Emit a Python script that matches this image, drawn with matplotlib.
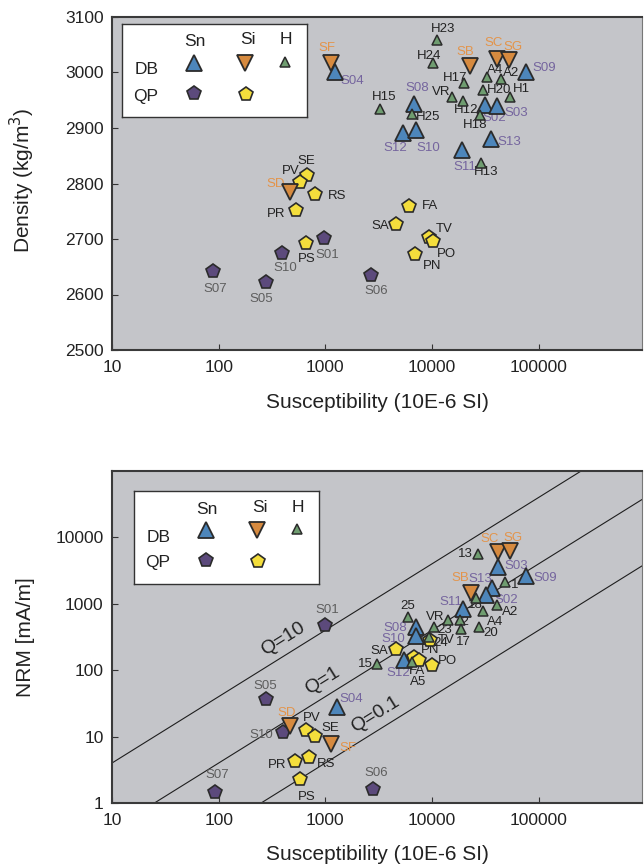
import numpy as np
import matplotlib
matplotlib.use('Agg')
import matplotlib.pyplot as plt
from matplotlib.ticker import FixedLocator, FixedFormatter, NullLocator

plt.rcParams['font.family'] = ['Liberation Sans', 'DejaVu Sans']

# ---------------- data: density panel ----------------
dbsn_top_names = ['S04', 'S08', 'S12', 'S10', 'S02', 'S03', 'S09', 'S13', 'S11']
dbsn_top_k = [1240, 6790, 5360, 7080, 31300, 40500, 75700, 35600, 19100]
dbsn_top_rho = [3001, 2943, 2891, 2896, 2941, 2940, 3001, 2880, 2860]

dbsi_top_names = ['SF', 'SB', 'SC', 'SG', 'SD']
dbsi_top_k = [1140, 22700, 40500, 52500, 471]
dbsi_top_rho = [3017, 3012, 3024, 3023, 2785]

dbh_top_names = ['H23', 'H24', 'H17', 'A4', 'A2', 'H20', 'H1', 'VR', 'H12', 'H18', 'H15', 'H25', 'H13']
dbh_top_k = [11100, 10200, 19900, 32700, 44200, 30000, 53600, 15400, 19500, 28100, 3270, 6500, 28700]
dbh_top_rho = [3059, 3017, 2981, 2992, 2988, 2968, 2956, 2956, 2949, 2923, 2934, 2925, 2837]

qpsn_top_names = ['S01', 'S10', 'S05', 'S06', 'S07']
qpsn_top_k = [979, 396, 275, 2690, 88]
qpsn_top_rho = [2702, 2675, 2623, 2635, 2642]

qpsi_top_names = ['SE', 'PV', 'RS', 'PR', 'FA', 'SA', 'TV', 'PO', 'PN', 'PS']
qpsi_top_k = [679, 584, 807, 535, 6100, 4610, 9370, 10200, 6930, 664]
qpsi_top_rho = [2815, 2803, 2781, 2752, 2759, 2727, 2704, 2696, 2673, 2693]

# ---------------- data: NRM panel ----------------
dbsn_bot_names = ['S03', 'S09', 'S13', 'S02', 'S11', 'S08', 'S10', 'S12', 'S04']
dbsn_bot_k = [41400, 75700, 36400, 32000, 19500, 7080, 7080, 5470, 1295]
dbsn_bot_nrm = [3580, 2620, 1730, 1360, 835, 447, 327, 142, 27.9]

dbsi_bot_names = ['SC', 'SG', 'SB', 'SD', 'SF']
dbsi_bot_k = [41400, 53600, 23100, 471, 1140]
dbsi_bot_nrm = [6030, 6240, 1455, 14.4, 7.7]

dbh_bot_names = ['13', '1', '18', 'A2', 'A4', '20', '25', 'VR', '12', '23', '17', '24', '15', 'A5']
dbh_bot_k = [26900, 48100, 25800, 40500, 30000, 27500, 5970, 14100, 18300, 10400, 18700, 9380, 3060, 6500]
dbh_bot_nrm = [5620, 2130, 1220, 959, 779, 447, 633, 570, 570, 447, 417, 316, 124, 133]

qpsn_bot_names = ['S01', 'S05', 'S10', 'S07', 'S06']
qpsn_bot_k = [1000, 275, 405, 92, 2810]
qpsn_bot_nrm = [479, 36.8, 11.7, 1.47, 1.63]

qpsi_bot_names = ['PV', 'SE', 'PR', 'RS', 'PS', 'SA', 'TV', 'PN', 'FA', 'PO']
qpsi_bot_k = [664, 807, 525, 708, 584, 4610, 9570, 6790, 7570, 10000]
qpsi_bot_nrm = [12.6, 10.2, 4.29, 4.93, 2.30, 209, 285, 158, 142, 120]

q_values = [10, 1, 0.1]
q_label_k = [481, 1114, 3480]

# label offsets (pixels) for the point names
off_dbsn_top = [(17, -9), (3, 16), (-8, -15), (12, -18), (9, -13), (19, -7), (18, 4), (18, -3), (3, -17)]
off_dbsi_top = [(-4, 15), (-5, 14), (-3, 16), (4, 13), (-15, 8)]
off_dbh_top = [(6, 11), (-4, 7), (-9, 5), (8, 7), (10, 6), (16, 0), (12, 8), (-11, 5), (3, -9),
               (-5, -10), (4, 12), (16, -3), (5, -9)]
off_qpsn_top = [(3, -17), (3, -15), (-4, -17), (5, -16), (2, -18)]
off_qpsi_top = [(-1, 14), (-10, 11), (22, -2), (-20, -4), (21, 0), (-16, -2), (15, 8), (14, -13),
                (17, -12), (0, -16)]

off_dbsn_bot = [(18, 1), (19, -2), (-12, 9), (20, -5), (-12, 7), (-21, -1), (-23, -3), (-6, -13), (14, 8)]
off_dbsi_bot = [(-8, 13), (3, 13), (-11, 15), (-4, 13), (17, -4)]
off_dbh_bot = [(-12, 0), (10, -3), (-1, -7), (13, -7), (12, -11), (12, -6), (0, 11), (-13, 3), (2, -2),
               (11, -3), (2, -13), (12, -6), (-12, 0), (6, -20)]
off_qpsn_bot = [(2, 15), (0, 13), (-22, -3), (2, 17), (3, 16)]
off_qpsi_bot = [(5, 12), (15, 8), (-18, -4), (17, -7), (6, -18), (-17, -2), (16, 0), (16, 7), (-2, -11), (15, 4)]

# ---------------- styles ----------------
EDGE = '#2b2b2b'
BG = '#c4c5c9'
sty_dbsn = dict(marker='^', ms=11, mfc='#4d86bb', mec=EDGE, mew=1.3)
sty_dbsi = dict(marker='v', ms=11, mfc='#d68a3f', mec=EDGE, mew=1.3)
sty_dbh = dict(marker='^', ms=7.5, mfc='#6f9d70', mec=EDGE, mew=1.1)
sty_qpsn = dict(marker='p', ms=10.5, mfc='#5c4a7c', mec=EDGE, mew=1.2)
sty_qpsi = dict(marker='p', ms=10.5, mfc='#f4de3c', mec=EDGE, mew=1.2)
col_dbsn = '#75659e'
col_dbsi = '#e3944a'
col_dbh = '#222222'
col_qpsn = '#5e5e5e'
col_qpsi = '#222222'

W, H = 644, 866
fig = plt.figure(figsize=(W / 100, H / 100), dpi=100)


def px_axes(l, t, r, b):
    return fig.add_axes([l / W, 1 - b / H, (r - l) / W, (b - t) / H])


def plot_group(ax, k, v, names, offs, sty, tcol, z):
    ax.plot(k, v, ls='none', zorder=z, **sty)
    for x, y, n, (dx, dy) in zip(k, v, names, offs):
        ax.annotate(n, (x, y), xytext=(dx, dy), textcoords='offset pixels',
                    ha='center', va='center', fontsize=9.5, color=tcol, zorder=2)


def style_axes(ax):
    ax.set_facecolor(BG)
    for s in ['top', 'left', 'bottom']:
        ax.spines[s].set_linewidth(1.5)
        ax.spines[s].set_color('#3a3a3a')
    ax.spines['right'].set_linewidth(0.8)
    ax.spines['right'].set_color('#777777')
    ax.set_xscale('log')
    ax.set_xlim(10, 9.3e5)
    ax.xaxis.set_major_locator(FixedLocator([10, 100, 1000, 10000, 100000]))
    ax.xaxis.set_major_formatter(FixedFormatter(['10', '100', '1000', '10000', '100000']))
    ax.xaxis.set_minor_locator(NullLocator())
    ax.tick_params(axis='both', direction='in', length=4, width=0.8, color='#333333',
                   labelsize=12.5, labelcolor='#222222')
    ax.tick_params(axis='x', pad=7)
    ax.tick_params(axis='y', pad=6)
    ax.set_xlabel('Susceptibility (10E-6 SI)', fontsize=15, color='#222222')


def draw_key(l, t):
    lg = px_axes(l, t, l + 185, t + 93)
    lg.set_xlim(0, 185)
    lg.set_ylim(93, 0)
    lg.set_xticks([])
    lg.set_yticks([])
    lg.set_facecolor('white')
    for s in lg.spines.values():
        s.set_linewidth(1.0)
        s.set_color('#333333')
    for txt, x, y in [('Sn', 73, 18), ('Si', 126, 16), ('H', 164, 16), ('DB', 25, 46), ('QP', 24, 72)]:
        lg.text(x, y, txt, ha='center', va='center', fontsize=12.5, color='#222222')
    lg.plot([72], [39], **sty_dbsn)
    lg.plot([123], [39], **sty_dbsi)
    lg.plot([163], [38], **sty_dbh)
    lg.plot([72], [69], **sty_qpsn)
    lg.plot([124], [70], **sty_qpsi)


# ---------------- top panel ----------------
ax1 = px_axes(112, 17, 642, 350)
style_axes(ax1)
ax1.set_ylim(2500, 3100)
ax1.yaxis.set_major_locator(FixedLocator(np.arange(2500, 3101, 100)))
ax1.yaxis.set_minor_locator(NullLocator())
ax1.set_ylabel('Density (kg/m$^3$)', fontsize=15, color='#222222')
ax1.yaxis.set_label_coords(-0.142, 0.51)
ax1.xaxis.set_label_coords(0.5, -0.128)

plot_group(ax1, qpsi_top_k, qpsi_top_rho, qpsi_top_names, off_qpsi_top, sty_qpsi, col_qpsi, 3)
plot_group(ax1, qpsn_top_k, qpsn_top_rho, qpsn_top_names, off_qpsn_top, sty_qpsn, col_qpsn, 3)
plot_group(ax1, dbsi_top_k, dbsi_top_rho, dbsi_top_names, off_dbsi_top, sty_dbsi, col_dbsi, 4)
plot_group(ax1, dbsn_top_k, dbsn_top_rho, dbsn_top_names, off_dbsn_top, sty_dbsn, col_dbsn, 5)
plot_group(ax1, dbh_top_k, dbh_top_rho, dbh_top_names, off_dbh_top, sty_dbh, col_dbh, 6)
draw_key(122, 24)

# ---------------- bottom panel ----------------
ax2 = px_axes(112, 471, 642, 803)
style_axes(ax2)
ax2.set_yscale('log')
ax2.set_ylim(1, 1e5)
ax2.yaxis.set_major_locator(FixedLocator([1, 10, 100, 1000, 10000]))
ax2.yaxis.set_major_formatter(FixedFormatter(['1', '10', '100', '1000', '10000']))
ax2.yaxis.set_minor_locator(NullLocator())
ax2.set_ylabel('NRM [mA/m]', fontsize=15, color='#222222')
ax2.yaxis.set_label_coords(-0.146, 0.5)
ax2.xaxis.set_label_coords(0.5, -0.125)

# Q (Koenigsberger) lines, induced magnetisation = 0.04 * k  (mA/m)
kline = np.array([1.0, 1e7])
p0 = ax2.transData.transform((1e3, 1e2))
p1 = ax2.transData.transform((1e4, 1e3))
ang = np.degrees(np.arctan2(p1[1] - p0[1], p1[0] - p0[0]))
perp = 15.0
qdx, qdy = -perp * np.sin(np.radians(ang)), perp * np.cos(np.radians(ang))
for q, kq in zip(q_values, q_label_k):
    c = 0.04 * q
    ax2.plot(kline, c * kline, color='#1e1e1e', lw=0.8, zorder=1)
    ax2.annotate('Q=%g' % q, (kq, c * kq), xytext=(qdx, qdy), textcoords='offset pixels',
                 ha='center', va='center', rotation=ang, rotation_mode='anchor',
                 fontsize=14, color='#222222', zorder=2)

plot_group(ax2, qpsi_bot_k, qpsi_bot_nrm, qpsi_bot_names, off_qpsi_bot, sty_qpsi, col_qpsi, 3)
plot_group(ax2, qpsn_bot_k, qpsn_bot_nrm, qpsn_bot_names, off_qpsn_bot, sty_qpsn, col_qpsn, 3)
plot_group(ax2, dbsi_bot_k, dbsi_bot_nrm, dbsi_bot_names, off_dbsi_bot, sty_dbsi, col_dbsi, 4)
plot_group(ax2, dbsn_bot_k, dbsn_bot_nrm, dbsn_bot_names, off_dbsn_bot, sty_dbsn, col_dbsn, 5)
plot_group(ax2, dbh_bot_k, dbh_bot_nrm, dbh_bot_names, off_dbh_bot, sty_dbh, col_dbh, 6)
draw_key(134, 491)

fig.savefig('out.png', dpi=100, facecolor='white')
